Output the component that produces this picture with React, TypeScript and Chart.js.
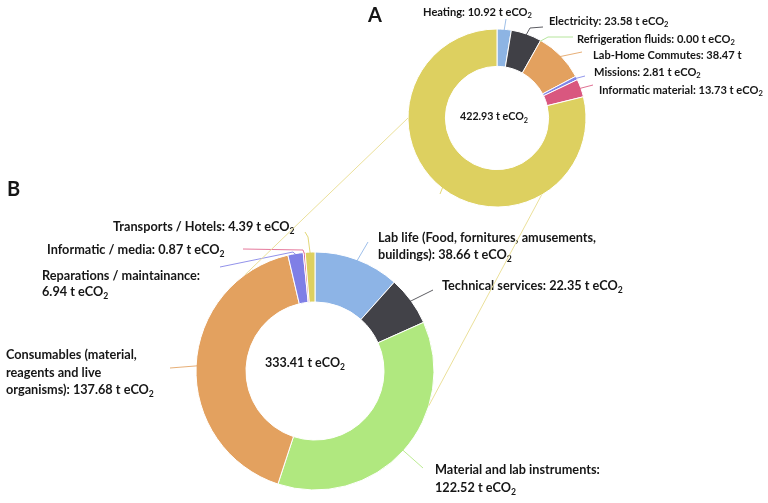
import { useEffect, useRef } from "react";
import { Chart, registerables } from "chart.js";
Chart.register(...registerables);

// ---------- data ----------
const categoriesA = ["Heating", "Electricity", "Refrigeration fluids", "Lab-Home Commutes", "Missions", "Informatic material", "Purchases"];
const valuesA = [10.92, 23.58, 0.0, 38.47, 2.81, 13.73, 333.41];
const colorsA = ["#8db4e3", "#404046", "#a9e08c", "#e3a15f", "#7f85e8", "#d9577f", "#ddd060"];
const totalA = "422.93 t eCO2";
const textA: string[][] = [
  ["Heating: 10.92 t eCO2"],
  ["Electricity: 23.58 t eCO2"],
  ["Refrigeration fluids: 0.00 t eCO2"],
  ["Lab-Home Commutes: 38.47 t"],
  ["Missions: 2.81 t eCO2"],
  ["Informatic material: 13.73 t eCO2"],
  [],
];

const categoriesB = [
  "Lab life (Food, fornitures, amusements, buildings)",
  "Technical services",
  "Material and lab instruments",
  "Consumables (material, reagents and live organisms)",
  "Reparations / maintainance",
  "Informatic / media",
  "Transports / Hotels",
];
const valuesB = [38.66, 22.35, 122.52, 137.68, 6.94, 0.87, 4.39];
const colorsB = ["#8db4e6", "#424248", "#b0e87f", "#e3a15f", "#7f7fe6", "#e0608a", "#ddd060"];
const totalB = "333.41 t eCO2";
const textB: string[][] = [
  ["Lab life (Food, fornitures, amusements,", "buildings): 38.66 t eCO2"],
  ["Technical services: 22.35 t eCO2"],
  ["Material and lab instruments:", "122.52 t eCO2"],
  ["Consumables (material,", "reagents and live", "organisms): 137.68 t eCO2"],
  ["Reparations / maintainance:", "6.94 t eCO2"],
  ["Informatic / media: 0.87 t eCO2"],
  ["Transports / Hotels: 4.39 t eCO2"],
];

// ---------- layout ----------
const W = 768;
const H = 503;
const RING_A = { cx: 497, cy: 118, r: 89 };
const RING_B = { cx: 315, cy: 371, r: 119 };
const FONT_FAMILY = "Lato, 'Open Sans', sans-serif";
const TEXT_COLOR = "#161616";

// font sizes are calibrated so that one reference label gets its measured width
const FIT_A = { label: 5, width: 164, centerWidth: 68 };
const FIT_B = { label: 1, width: 181, centerWidth: 80 };

type LabelLayout = { pts: number[][]; tx: number; ty: number[] } | null;

const layoutA: LabelLayout[] = [
  { pts: [[506, 19]], tx: 423, ty: [12] },
  { pts: [[530, 28], [543, 27]], tx: 549, ty: [21] },
  { pts: [[548, 37], [573, 37]], tx: 577, ty: [39] },
  { pts: [[582, 52]], tx: 593, ty: [55] },
  { pts: [[585, 76]], tx: 594, ty: [72] },
  { pts: [[593, 85]], tx: 599, ty: [90] },
  { pts: [[440, 194]], tx: 0, ty: [] },
];
const layoutB: LabelLayout[] = [
  { pts: [[368, 242]], tx: 378, ty: [238, 255] },
  { pts: [[433, 290]], tx: 442, ty: [286] },
  { pts: [[423, 468]], tx: 435, ty: [470, 488] },
  { pts: [[170, 368]], tx: 6, ty: [355, 373, 390] },
  { pts: [[293, 252], [220, 267]], tx: 42, ty: [276, 292] },
  { pts: [[303, 250], [243, 249]], tx: 47, ty: [250] },
  { pts: [[308, 237], [305, 232]], tx: 113, ty: [227] },
];
const centerOffsetA = [-3, -1];
const centerOffsetB = [-10, -8];
// connection lines: angle on A (deg clockwise from top) -> angle on B
const connections = [
  { a: 270, b: 324 },
  { a: 150, b: 107 },
];
const CONNECT_COLOR = "#ebe09a";
const PANEL_LETTERS = [
  { t: "A", x: 368, y: 16 },
  { t: "B", x: 7, y: 190 },
];

// ---------- helpers ----------
function splitSub(text: string) {
  if (text.endsWith("eCO2")) return { main: text.slice(0, -1), sub: "2" };
  return { main: text, sub: "" };
}

function measureRich(ctx: CanvasRenderingContext2D, text: string, size: number) {
  const { main, sub } = splitSub(text);
  ctx.font = `bold ${size}px ${FONT_FAMILY}`;
  const wMain = ctx.measureText(main).width;
  const subSize = size * 0.68;
  ctx.font = `bold ${subSize}px ${FONT_FAMILY}`;
  const wSub = sub ? ctx.measureText(sub).width : 0;
  return { wMain, wSub, subSize, main, sub };
}

function drawRich(ctx: CanvasRenderingContext2D, text: string, x: number, y: number, size: number, align: "left" | "center") {
  const m = measureRich(ctx, text, size);
  ctx.textBaseline = "middle";
  ctx.textAlign = "left";
  ctx.fillStyle = TEXT_COLOR;
  const x0 = align === "center" ? x - (m.wMain + m.wSub) / 2 : x;
  ctx.font = `bold ${size}px ${FONT_FAMILY}`;
  ctx.fillText(m.main, x0, y);
  if (m.sub) {
    ctx.font = `bold ${m.subSize}px ${FONT_FAMILY}`;
    ctx.fillText(m.sub, x0 + m.wMain, y + size * 0.3);
  }
}

function fitSize(ctx: CanvasRenderingContext2D, text: string, width: number) {
  const m = measureRich(ctx, text, 100);
  return (100 * width) / (m.wMain + m.wSub);
}

function arcGeom(arc: any) {
  return arc.getProps(["x", "y", "startAngle", "endAngle", "outerRadius", "innerRadius"], true);
}

function labelPlugin(
  id: string,
  layout: LabelLayout[],
  lines: string[][],
  colors: string[],
  total: string,
  off: number[],
  fit: { label: number; width: number; centerWidth: number }
) {
  return {
    id,
    afterDraw(chart: any) {
      const ctx: CanvasRenderingContext2D = chart.ctx;
      const meta = chart.getDatasetMeta(0);
      ctx.save();
      const size = fitSize(ctx, lines[fit.label][0], fit.width);
      const centerSize = fitSize(ctx, total, fit.centerWidth);
      meta.data.forEach((arc: any, i: number) => {
        const L = layout[i];
        if (!L) return;
        const g = arcGeom(arc);
        const mid = (g.startAngle + g.endAngle) / 2;
        const r0 = g.outerRadius - 1;
        ctx.beginPath();
        ctx.moveTo(g.x + Math.cos(mid) * r0, g.y + Math.sin(mid) * r0);
        L.pts.forEach((p) => ctx.lineTo(p[0], p[1]));
        ctx.strokeStyle = colors[i];
        ctx.globalAlpha = 0.85;
        ctx.lineWidth = 1;
        ctx.stroke();
        ctx.globalAlpha = 1;
        lines[i].forEach((t, k) => drawRich(ctx, t, L.tx, L.ty[k], size, "left"));
      });
      const g0 = arcGeom(meta.data[0]);
      drawRich(ctx, total, g0.x + off[0], g0.y + off[1], centerSize, "center");
      ctx.restore();
    },
  };
}

function connectorPlugin(getB: () => any) {
  return {
    id: "connector",
    afterDraw(chart: any) {
      const chartB = getB();
      if (!chartB) return;
      const ctx: CanvasRenderingContext2D = chart.ctx;
      const a = arcGeom(chart.getDatasetMeta(0).data[0]);
      const b = arcGeom(chartB.getDatasetMeta(0).data[0]);
      ctx.save();
      ctx.strokeStyle = CONNECT_COLOR;
      ctx.lineWidth = 1;
      connections.forEach((c) => {
        const ta = (c.a * Math.PI) / 180 - Math.PI / 2;
        const tb = (c.b * Math.PI) / 180 - Math.PI / 2;
        ctx.beginPath();
        ctx.moveTo(a.x + Math.cos(ta) * a.outerRadius, a.y + Math.sin(ta) * a.outerRadius);
        ctx.lineTo(b.x + Math.cos(tb) * b.outerRadius, b.y + Math.sin(tb) * b.outerRadius);
        ctx.stroke();
      });
      ctx.fillStyle = TEXT_COLOR;
      ctx.textBaseline = "middle";
      ctx.textAlign = "left";
      ctx.font = `bold 20px ${FONT_FAMILY}`;
      PANEL_LETTERS.forEach((p) => ctx.fillText(p.t, p.x, p.y));
      ctx.restore();
    },
  };
}

function ringPadding(r: { cx: number; cy: number; r: number }) {
  const half = r.r + 0.5;
  return { left: r.cx - half, right: W - (r.cx + half), top: r.cy - half, bottom: H - (r.cy + half) };
}

function doughnutConfig(labels: string[], values: number[], colors: string[], ring: any, plugins: any[]) {
  return {
    type: "doughnut" as const,
    data: {
      labels,
      datasets: [
        {
          data: values,
          backgroundColor: colors,
          borderColor: "#ffffff",
          borderWidth: 1,
          hoverOffset: 0,
        },
      ],
    },
    options: {
      responsive: false,
      animation: false as const,
      events: [] as any[],
      cutout: "58%",
      layout: { padding: ringPadding(ring) },
      plugins: { legend: { display: false }, tooltip: { enabled: false } },
    },
    plugins,
  };
}

export default function App() {
  const refA = useRef<HTMLCanvasElement>(null);
  const refB = useRef<HTMLCanvasElement>(null);
  useEffect(() => {
    const chartB = new Chart(
      refB.current!,
      doughnutConfig(categoriesB, valuesB, colorsB, RING_B, [
        labelPlugin("labelsB", layoutB, textB, colorsB, totalB, centerOffsetB, FIT_B),
      ]) as any
    );
    const chartA = new Chart(
      refA.current!,
      doughnutConfig(categoriesA, valuesA, colorsA, RING_A, [
        connectorPlugin(() => chartB),
        labelPlugin("labelsA", layoutA, textA, colorsA, totalA, centerOffsetA, FIT_A),
      ]) as any
    );
    return () => {
      chartA.destroy();
      chartB.destroy();
    };
  }, []);
  return (
    <div style={{ position: "absolute", left: 0, top: 0, width: W, height: H, background: "#ffffff" }}>
      <canvas ref={refB} width={W} height={H} style={{ position: "absolute", left: 0, top: 0 }} />
      <canvas ref={refA} width={W} height={H} style={{ position: "absolute", left: 0, top: 0 }} />
    </div>
  );
}
